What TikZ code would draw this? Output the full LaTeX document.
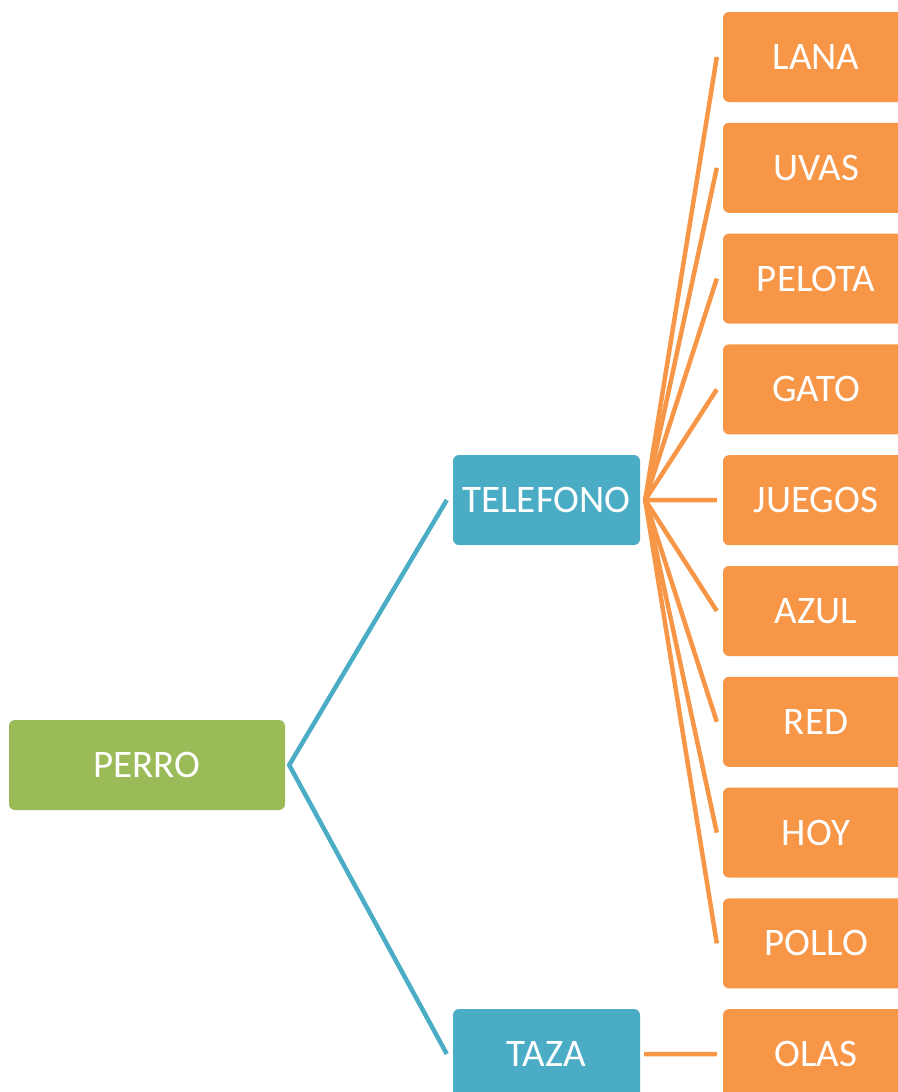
\documentclass[tikz,border=0pt]{standalone}
\usepackage{fontspec}
\setmainfont{Carlito}
\usepackage{xcolor}
\usetikzlibrary{positioning}

\definecolor{leaforange}{HTML}{F79646}
\definecolor{branchblue}{HTML}{4BACC6}
\definecolor{rootgreen}{HTML}{9BBB59}

\begin{document}
\begin{tikzpicture}[x=1pt, y=1pt, node distance=110.8pt,
  root/.style={rectangle, rounded corners=6pt, minimum width=276pt, minimum height=90pt, inner sep=0pt, text centered, fill=rootgreen, text=white, font=\fontsize{39}{47}\selectfont, text height=25pt, text depth=0pt},
  branch/.style={rectangle, rounded corners=6pt, minimum width=187pt, minimum height=90pt, inner sep=0pt, text centered, fill=branchblue, text=white, font=\fontsize{39}{47}\selectfont, text height=25pt, text depth=0pt},
  leaf/.style={rectangle, rounded corners=6pt, minimum width=186pt, minimum height=90pt, inner sep=0pt, text centered, fill=leaforange, text=white, font=\fontsize{39}{47}\selectfont, text height=25pt, text depth=0pt},
  blueline/.style={line width=4.5pt, draw=branchblue},
  orangeline/.style={line width=4.5pt, draw=leaforange}]

  \useasboundingbox (0,0) rectangle (897,-1092);

  \node (perro) [root] at (147,-765) {PERRO};
  \node (telefono) [branch] at (546.5,-500) {TELEFONO};
  \node (taza) [branch, below of=telefono, node distance=554pt] {TAZA};

  \node (lana) [leaf] at (816,-57) {LANA};
  \node (uvas) [leaf, below of=lana] {UVAS};
  \node (pelota) [leaf, below of=uvas] {PELOTA};
  \node (gato) [leaf, below of=pelota] {GATO};
  \node (juegos) [leaf, below of=gato] {JUEGOS};
  \node (azul) [leaf, below of=juegos] {AZUL};
  \node (red) [leaf, below of=azul] {RED};
  \node (hoy) [leaf, below of=red] {HOY};
  \node (pollo) [leaf, below of=hoy] {POLLO};
  \node (olas) [leaf, below of=pollo] {OLAS};

  \draw [blueline] ([xshift=-6pt]telefono.west) -- ([xshift=4pt]perro.east) -- ([xshift=-6pt]taza.west);

  \draw [orangeline] ([xshift=5pt]telefono.east) -- ([xshift=-6pt]lana.west);
  \draw [orangeline] ([xshift=5pt]telefono.east) -- ([xshift=-6pt]uvas.west);
  \draw [orangeline] ([xshift=5pt]telefono.east) -- ([xshift=-6pt]pelota.west);
  \draw [orangeline] ([xshift=5pt]telefono.east) -- ([xshift=-6pt]gato.west);
  \draw [orangeline] ([xshift=5pt]telefono.east) -- ([xshift=-6pt]juegos.west);
  \draw [orangeline] ([xshift=5pt]telefono.east) -- ([xshift=-6pt]azul.west);
  \draw [orangeline] ([xshift=5pt]telefono.east) -- ([xshift=-6pt]red.west);
  \draw [orangeline] ([xshift=5pt]telefono.east) -- ([xshift=-6pt]hoy.west);
  \draw [orangeline] ([xshift=5pt]telefono.east) -- ([xshift=-6pt]pollo.west);
  \draw [orangeline] ([xshift=4pt]taza.east) -- ([xshift=-6pt]olas.west);
\end{tikzpicture}
\end{document}
